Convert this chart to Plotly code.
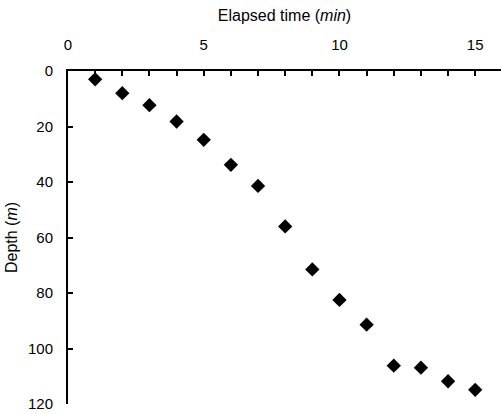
import plotly.graph_objects as go

# Elapsed time (min) and measured depth (m)
elapsed_min = [1, 2, 3, 4, 5, 6, 7, 8, 9, 10, 11, 12, 13, 14, 15]
depth_m = [3.0, 8.0, 12.3, 18.2, 24.8, 33.8, 41.4, 56.0, 71.5, 82.5, 91.4, 106.2, 106.9, 111.8, 114.9]

x_ticks = [0, 5, 10, 15]
y_ticks = [0, 20, 40, 60, 80, 100, 120]

FONT = "Liberation Sans, Arial, sans-serif"

fig = go.Figure(
    go.Scatter(
        x=elapsed_min,
        y=depth_m,
        mode="markers",
        marker=dict(symbol="diamond", size=11, color="black"),
        cliponaxis=False,
        showlegend=False,
    )
)

fig.update_layout(
    width=501,
    height=414,
    margin=dict(l=68, r=0, t=71, b=10),
    paper_bgcolor="white",
    plot_bgcolor="white",
    font=dict(family=FONT, size=15, color="black"),
)

fig.update_xaxes(
    side="top",
    range=[0, 15.95],
    tickvals=x_ticks,
    ticks="inside",
    ticklen=5,
    tickwidth=1.5,
    tickcolor="black",
    minor=dict(dtick=1, ticks="inside", ticklen=5, tickwidth=1.5, tickcolor="black"),
    ticklabelstandoff=13,
    showline=True,
    linecolor="black",
    linewidth=2,
    showgrid=False,
    zeroline=False,
    title=dict(text="Elapsed time (<i>min</i>)", standoff=10, font=dict(size=16)),
)

fig.update_yaxes(
    range=[120, 0],
    tickvals=y_ticks,
    ticks="inside",
    ticklen=5,
    tickwidth=1.5,
    tickcolor="black",
    ticklabelstandoff=10,
    showline=True,
    linecolor="black",
    linewidth=2,
    showgrid=False,
    zeroline=False,
    title=dict(text="Depth (<i>m</i>)", standoff=6, font=dict(size=16)),
)

fig.write_html("out.html")
